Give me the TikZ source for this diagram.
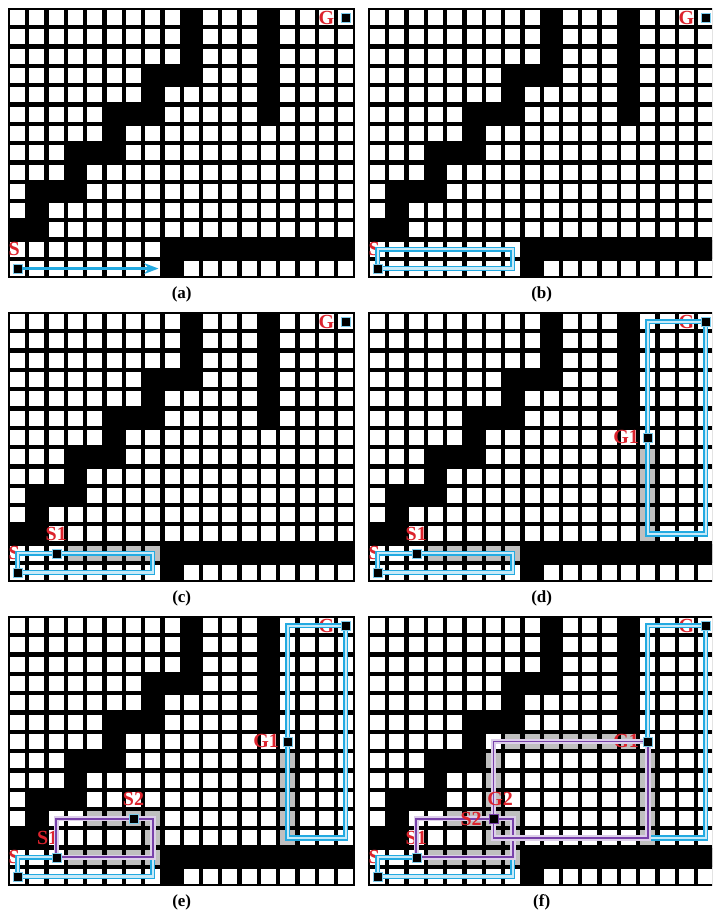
\documentclass[tikz,border=0pt]{standalone}
\usepackage{fontspec}
\setmainfont{Liberation Serif}
\usepackage{tikz}
\usetikzlibrary{arrows.meta}

\definecolor{routeblue}{RGB}{35,170,225}
\definecolor{routeviolet}{RGB}{120,65,170}
\definecolor{tagred}{RGB}{220,35,45}

\begin{document}
\begin{tikzpicture}[x=1pt, y=-1pt,
  free/.style={fill=white},
  seen/.style={fill=gray!50},
  cellmark/.style={draw=routeblue!60, fill=black, line width=0.5pt, minimum size=9pt, inner sep=0pt},
  maplabel/.style={text=tagred, inner sep=0pt, font=\bfseries\fontsize{20}{20}\selectfont},
  capnode/.style={font=\bfseries\fontsize{17}{19}\selectfont},
  route/.style={draw=routeblue, line width=1.5pt, double=routeblue!25, double distance=2.2pt},
  subroute/.style={draw=routeviolet, line width=1.8pt, preaction={draw=routeviolet!25, line width=5.5pt}},
  >=Stealth]

  \fill[white] (0,0) rectangle (712,917);
  \clip (0,0) rectangle (712,917);

  \foreach \n/\px/\py/\lab in {1/8/8/a, 2/368/8/b, 3/8/312/c, 4/368/312/d, 5/8/616/e, 6/368/616/f} {
    \begin{scope}[shift={(\px pt,-\py pt)}, x=19.3pt, y=-19.3pt]
      % grid cells
      \fill[black] (0,0) rectangle (18,14);
      \foreach \c in {1,...,18}
        \foreach \r in {1,...,14}
          \fill[free] (\c-0.89,\r-0.89) rectangle (\c-0.11,\r-0.11);
      % walls
      \foreach \ca/\ra/\cb/\rb in {10/1/10/3, 14/1/14/6, 8/4/10/4, 8/5/8/5, 6/6/8/6, 6/7/6/7,
          4/8/6/8, 4/9/4/9, 2/10/4/10, 2/11/2/11, 1/12/2/12, 9/13/18/13, 9/14/9/14}
        \fill[black] (\ca-1,\ra-1) rectangle (\cb,\rb);
      % searched cells
      \ifnum\n>2
        \foreach \c in {4,...,8} \fill[seen] (\c-0.89,12.11) rectangle (\c-0.11,12.89);
      \fi
      \ifnum\n>3
        \foreach \r in {8,...,12} \fill[seen] (14.11,\r-0.89) rectangle (14.89,\r-0.11);
      \fi
      \ifnum\n>4
        \foreach \c in {5,...,8} \fill[seen] (\c-0.89,10.11) rectangle (\c-0.11,10.89);
        \fill[seen] (7.11,11.11) rectangle (7.89,11.89);
      \fi
      \ifnum\n>5
        \foreach \c in {8,...,14} \fill[seen] (\c-0.89,6.11) rectangle (\c-0.11,6.89);
        \foreach \r in {8,...,12} \fill[seen] (6.11,\r-0.89) rectangle (6.89,\r-0.11);
      \fi
      % labels
      \node[maplabel, anchor=west] (slab\n) at (0.02,12.5) {S};
      \node[maplabel] (glab\n) at (16.5,0.5) {G};
      \ifnum\n=5
        \node[maplabel] (salab\n) at (2.05,11.5) {S1};
      \else\ifnum\n>2
        \node[maplabel] (salab\n) at (2.5,11.5) {S1};
      \fi\fi
      \ifnum\n>3 \node[maplabel, anchor=east] (galab\n) at (14.05,6.5) {G1}; \fi
      \ifnum\n=5 \node[maplabel] (sblab\n) at (6.5,9.5) {S2}; \fi
      % routes
      \ifnum\n>1 \draw[route] (0.5,12.5) rectangle (7.5,13.5); \fi
      \ifnum\n>3 \draw[route] (14.5,0.5) rectangle (17.5,11.5); \fi
      \ifnum\n>4 \draw[subroute] (2.5,10.5) rectangle (7.5,12.5); \fi
      \ifnum\n>5 \draw[subroute] (6.5,6.5) rectangle (14.5,11.5); \fi
      % markers
      \node[cellmark] (st\n) at (0.5,13.5) {};
      \node[cellmark] (go\n) at (17.5,0.5) {};
      \ifnum\n>2 \node[cellmark] (sa\n) at (2.5,12.5) {}; \fi
      \ifnum\n>3 \node[cellmark] (ga\n) at (14.5,6.5) {}; \fi
      \ifnum\n=5 \node[cellmark] (sb\n) at (6.5,10.5) {}; \fi
      \ifnum\n=6
        \node[cellmark, draw=routeviolet] (sb\n) at (6.5,10.5) {};
        \node[maplabel, anchor=east] (sblab\n) at (5.9,10.5) {S2};
        \node[maplabel] (gblab\n) at (6.85,9.5) {G2};
      \fi
      \ifnum\n=1
        \draw[->, draw=routeblue, line width=2.5pt] (st\n) -- (7.8,13.5);
      \fi
      \node[capnode] (cap\n) at (9,14.85) {(\lab)};
    \end{scope}
  }
\end{tikzpicture}
\end{document}
